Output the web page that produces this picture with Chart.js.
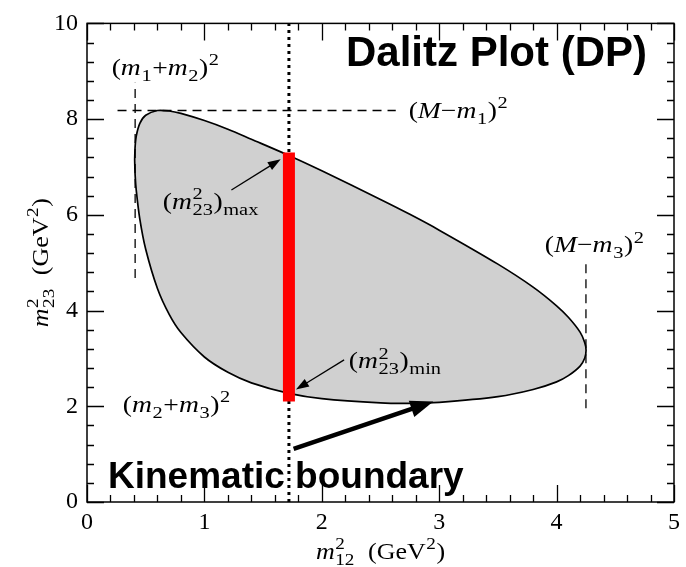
<!DOCTYPE html>
<html>
<head>
<meta charset="utf-8">
<script src="https://cdn.jsdelivr.net/npm/chart.js@4.4.1/dist/chart.umd.min.js"></script>
<style>
  html, body { margin: 0; padding: 0; background: #fff; }
  canvas { display: block; }
</style>
</head>
<body>
<canvas id="dalitz" width="686" height="567"></canvas>
<script>
// Dalitz plot: allowed region of m12^2 vs m23^2 (GeV^2) for a three-body decay

const X_TICKS = [0, 1, 2, 3, 4, 5];
const Y_TICKS = [0, 2, 4, 6, 8, 10];

// upper edge of the allowed region, left to right
const upperM12 = [0.406, 0.41, 0.42, 0.45, 0.5, 0.6, 0.7, 0.8, 1.0, 1.2, 1.4, 1.72, 2.0, 2.5, 2.75, 3.0, 3.5, 3.8, 4.0, 4.1, 4.2, 4.24, 4.251];
const upperM23 = [7.15, 7.43, 7.65, 7.91, 8.08, 8.18, 8.17, 8.12, 7.97, 7.79, 7.58, 7.24, 6.92, 6.32, 6.01, 5.68, 4.97, 4.49, 4.10, 3.86, 3.55, 3.33, 3.17];

// lower edge of the allowed region, right to left
const lowerM12 = [4.24, 4.2, 4.1, 4.0, 3.8, 3.5, 3.0, 2.75, 2.5, 2.0, 1.72, 1.4, 1.2, 1.0, 0.8, 0.7, 0.6, 0.5, 0.45, 0.42, 0.41, 0.406];
const lowerM23 = [3.01, 2.84, 2.64, 2.51, 2.35, 2.20, 2.08, 2.06, 2.07, 2.16, 2.27, 2.49, 2.71, 3.03, 3.54, 3.92, 4.46, 5.28, 5.91, 6.50, 6.83, 7.15];

// kinematic limits (dashed guides)
const m12MinX = [0.41, 0.41];
const m12MinY = [4.68, 8.76];
const m23MaxX = [0.26, 2.63];
const m23MaxY = [8.18, 8.18];
const m12MaxX = [4.25, 4.25];
const m12MaxY = [1.96, 5.09];

// fixed-m12^2 slice: dotted guide and the m23^2 range it spans
const sliceX = [1.72, 1.72];
const sliceGuideY = [0, 10];
const sliceRangeY = [2.10, 7.30];

// arrows: [fromX, fromY, toX, toY]
const arrowMax = [1.23, 6.52, 1.65, 7.16];
const arrowMin = [2.19, 2.97, 1.78, 2.35];
const arrowBoundary = [1.76, 1.11, 2.95, 2.10];

const zipXY = (xs, ys) => xs.map((x, i) => ({ x, y: ys[i] }));
const boundary = zipXY(upperM12, upperM23).concat(zipXY(lowerM12, lowerM23));

const SERIF = '"Liberation Serif", "Times New Roman", serif';
const SANS = '"Liberation Sans", Arial, sans-serif';

// tiny math-label renderer: m/M italic, ^ superscript, _ subscript, ^x_y stacked
function readArg(s, i) {
  if (s[i] === '{') { const j = s.indexOf('}', i); return [s.slice(i + 1, j), j + 1]; }
  return [s[i], i + 1];
}
function parseMath(s) {
  const out = [];
  let i = 0;
  while (i < s.length) {
    const c = s[i];
    if (c === '^' || c === '_') {
      let [a, j] = readArg(s, i + 1);
      let sup = null, sub = null;
      if (c === '^') sup = a; else sub = a;
      if ((c === '^' && s[j] === '_') || (c === '_' && s[j] === '^')) {
        const [b, k] = readArg(s, j + 1);
        if (c === '^') sub = b; else sup = b;
        j = k;
      }
      out.push({ script: true, sup, sub });
      i = j;
    } else {
      out.push({ text: c, italic: c === 'm' || c === 'M' });
      i++;
    }
  }
  return out;
}
// draws the label with its baseline at (x, y); sx widens the glyphs horizontally
function drawMath(ctx, s, x, y, size, align, sx) {
  const parts = parseMath(s);
  const base = `${size}px ${SERIF}`;
  const ital = `italic ${size}px ${SERIF}`;
  const small = `${Math.round(size * 0.72)}px ${SERIF}`;
  const widths = parts.map(p => {
    if (p.script) {
      ctx.font = small;
      const w1 = p.sup ? ctx.measureText(p.sup).width : 0;
      const w2 = p.sub ? ctx.measureText(p.sub).width : 0;
      return Math.max(w1, w2) + 1;
    }
    ctx.font = p.italic ? ital : base;
    return ctx.measureText(p.text).width;
  });
  const total = widths.reduce((a, b) => a + b, 0);
  ctx.save();
  ctx.translate(x, y);
  ctx.scale(sx, 1);
  let cx = align === 'center' ? -total / 2 : 0;
  ctx.textAlign = 'left';
  ctx.textBaseline = 'alphabetic';
  parts.forEach((p, k) => {
    if (p.script) {
      ctx.font = small;
      if (p.sup) ctx.fillText(p.sup, cx + 0.5, -size * 0.42);
      if (p.sub) ctx.fillText(p.sub, cx + 0.5, size * 0.26);
    } else {
      ctx.font = p.italic ? ital : base;
      ctx.fillText(p.text, cx, 0);
    }
    cx += widths[k];
  });
  ctx.restore();
}

function drawArrow(ctx, x0, y0, x1, y1, width, headLen, headW) {
  const a = Math.atan2(y1 - y0, x1 - x0);
  const bx = x1 - headLen * Math.cos(a), by = y1 - headLen * Math.sin(a);
  ctx.strokeStyle = '#000';
  ctx.fillStyle = '#000';
  ctx.lineWidth = width;
  ctx.lineCap = 'butt';
  ctx.beginPath();
  ctx.moveTo(x0, y0);
  ctx.lineTo(bx + Math.cos(a), by + Math.sin(a));
  ctx.stroke();
  ctx.beginPath();
  ctx.moveTo(x1, y1);
  ctx.lineTo(bx + (headW / 2) * Math.sin(a), by - (headW / 2) * Math.cos(a));
  ctx.lineTo(bx - (headW / 2) * Math.sin(a), by + (headW / 2) * Math.cos(a));
  ctx.closePath();
  ctx.fill();
}

// annotation labels anchored in data coordinates
const LABELS = [
  { text: '(m_1+m_2)^2', at: [0.21, 8.93] },
  { text: '(M\u2212m_1)^2', at: [2.74, 8.03] },
  { text: '(m^2_{23})_{max}', at: [0.645, 6.13] },
  { text: '(M\u2212m_3)^2', at: [3.90, 5.22] },
  { text: '(m^2_{23})_{min}', at: [2.23, 2.79] },
  { text: '(m_2+m_3)^2', at: [0.305, 1.88] }
];

const decorations = {
  id: 'decorations',
  afterDatasetsDraw(chart) {
    const { ctx, chartArea: ca, scales: { x, y } } = chart;
    const px = v => x.getPixelForValue(v);
    const py = v => y.getPixelForValue(v);
    ctx.save();

    // arrows
    drawArrow(ctx, px(arrowMax[0]), py(arrowMax[1]), px(arrowMax[2]), py(arrowMax[3]), 1.3, 13, 9);
    drawArrow(ctx, px(arrowMin[0]), py(arrowMin[1]), px(arrowMin[2]), py(arrowMin[3]), 1.3, 13, 9);
    drawArrow(ctx, px(arrowBoundary[0]), py(arrowBoundary[1]), px(arrowBoundary[2]), py(arrowBoundary[3]), 4.5, 23, 17);

    // frame with inward ticks
    ctx.strokeStyle = '#000';
    ctx.lineWidth = 1.5;
    ctx.strokeRect(ca.left, ca.top, ca.right - ca.left, ca.bottom - ca.top);
    ctx.lineWidth = 1.3;
    ctx.beginPath();
    for (let i = 0; i <= 25; i++) {
      const v = i * 0.2;
      const len = X_TICKS.includes(Math.round(v * 10) / 10) ? 17 : 7;
      const p = Math.round(px(v)) + 0.5;
      ctx.moveTo(p, ca.bottom); ctx.lineTo(p, ca.bottom - len);
      ctx.moveTo(p, ca.top); ctx.lineTo(p, ca.top + len);
    }
    for (let i = 0; i <= 25; i++) {
      const v = Math.round(i * 0.4 * 10) / 10;
      const len = Y_TICKS.includes(v) ? 17 : 7;
      const p = Math.round(py(v)) + 0.5;
      ctx.moveTo(ca.left, p); ctx.lineTo(ca.left + len, p);
      ctx.moveTo(ca.right, p); ctx.lineTo(ca.right - len, p);
    }
    ctx.stroke();

    // math labels
    ctx.fillStyle = '#000';
    LABELS.forEach(l => drawMath(ctx, l.text, px(l.at[0]), py(l.at[1]), 23, 'left', 1.2));

    // axis titles
    drawMath(ctx, 'm^2_{12}  (GeV^2)', (ca.left + ca.right) / 2, 559, 23, 'center', 1.13);
    ctx.save();
    ctx.translate(48, (ca.top + ca.bottom) / 2);
    ctx.rotate(-Math.PI / 2);
    drawMath(ctx, 'm^2_{23}  (GeV^2)', 0, 0, 23, 'center', 1.13);
    ctx.restore();

    // headline texts
    ctx.fillStyle = '#000';
    ctx.textBaseline = 'alphabetic';
    ctx.font = `bold 42px ${SANS}`;
    ctx.textAlign = 'right';
    ctx.fillText('Dalitz Plot (DP)', ca.right - 27, ca.top + 43);
    ctx.font = `bold 37px ${SANS}`;
    ctx.textAlign = 'left';
    ctx.fillText('Kinematic boundary', ca.left + 21, ca.bottom - 14);

    ctx.restore();
  }
};

const thinLine = { showLine: true, pointRadius: 0, pointHoverRadius: 0, fill: false, tension: 0 };

new Chart(document.getElementById('dalitz'), {
  type: 'scatter',
  data: {
    datasets: [
      { ...thinLine, label: 'm23 range', data: zipXY(sliceX, sliceRangeY), borderColor: '#ff0000', borderWidth: 12, borderCapStyle: 'butt', order: 0 },
      { ...thinLine, label: 'slice', data: zipXY(sliceX, sliceGuideY), borderColor: '#000', borderWidth: 3, borderDash: [3, 4], order: 1 },
      { ...thinLine, label: 'm12 min', data: zipXY(m12MinX, m12MinY), borderColor: '#000', borderWidth: 1.3, borderDash: [9, 6], order: 2 },
      { ...thinLine, label: 'm23 max', data: zipXY(m23MaxX, m23MaxY), borderColor: '#000', borderWidth: 1.3, borderDash: [9, 6], order: 2 },
      { ...thinLine, label: 'm12 max', data: zipXY(m12MaxX, m12MaxY), borderColor: '#000', borderWidth: 1.3, borderDash: [9, 6], order: 2 },
      { label: 'boundary', data: boundary, showLine: true, pointRadius: 0, pointHoverRadius: 0,
        fill: 'shape', backgroundColor: '#d0d0d0', borderColor: '#000', borderWidth: 1.7, tension: 0.3, order: 5 }
    ]
  },
  options: {
    responsive: false,
    animation: false,
    devicePixelRatio: 1,
    layout: { padding: { top: 17, right: 9, left: 0, bottom: 0 } },
    plugins: { legend: { display: false }, tooltip: { enabled: false } },
    scales: {
      x: {
        type: 'linear', min: 0, max: 5,
        afterFit(s) { s.height = 65; },
        afterBuildTicks(s) { s.ticks = X_TICKS.map(v => ({ value: v })); },
        ticks: { font: { family: SERIF, size: 24 }, color: '#000', padding: 6, maxRotation: 0, autoSkip: false },
        grid: { display: false, drawTicks: false },
        border: { display: false }
      },
      y: {
        type: 'linear', min: 0, max: 10,
        afterFit(s) { s.width = 87; },
        afterBuildTicks(s) { s.ticks = Y_TICKS.map(v => ({ value: v })); },
        ticks: { font: { family: SERIF, size: 24 }, color: '#000', padding: 9, autoSkip: false },
        grid: { display: false, drawTicks: false },
        border: { display: false }
      }
    }
  },
  plugins: [decorations]
});
</script>
</body>
</html>
